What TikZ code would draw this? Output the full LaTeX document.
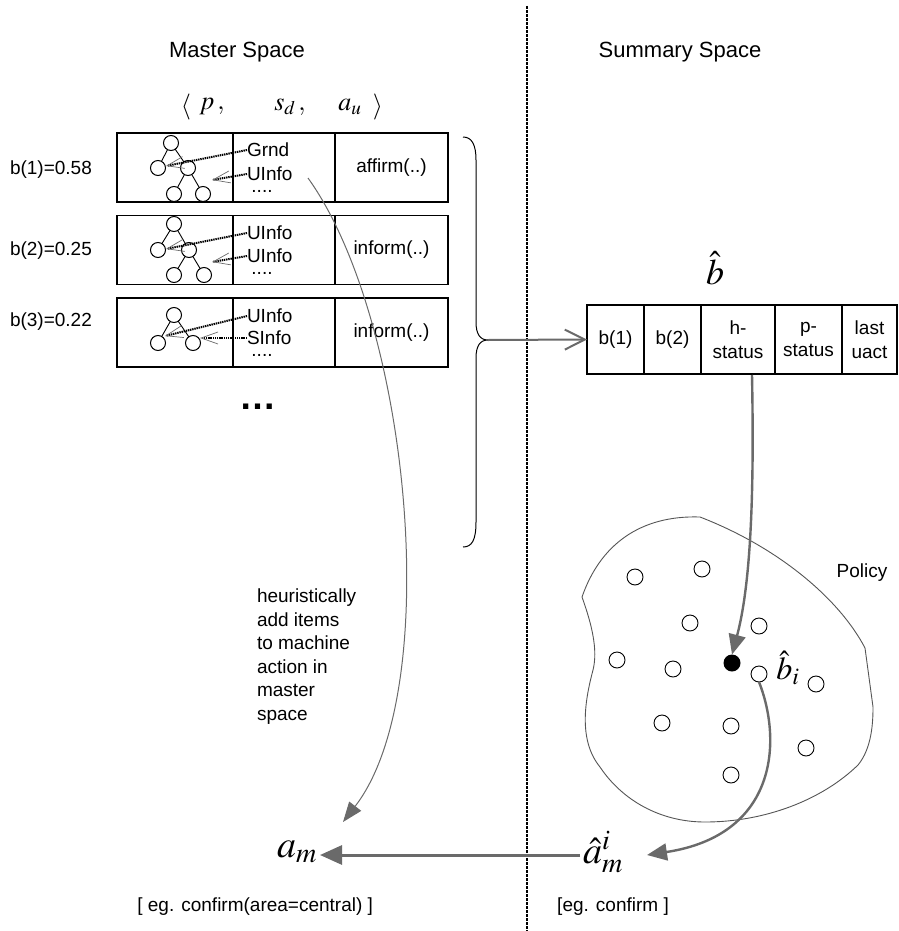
\documentclass[tikz,border=0pt]{standalone}
\usepackage{mathptmx}
\usepackage{fontspec}
\setmainfont{Liberation Sans}
\usetikzlibrary{arrows.meta}
\definecolor{arrgray}{HTML}{6A6A6A}
\definecolor{blobgray}{HTML}{555555}
\begin{document}
\begin{tikzpicture}[x=1pt,y=-1pt,
  every node/.style={inner sep=0pt, outer sep=0pt},
  txt/.style={font=\fontsize{19}{24}\selectfont},
  ttl/.style={font=\fontsize{22}{26}\selectfont},
  mth/.style={font=\fontsize{38}{42}\selectfont},
  tup/.style={font=\fontsize{26}{30}\selectfont},
  cell/.style={draw, line width=1.2pt, anchor=north west, minimum height=69pt, txt, align=center},
  tn/.style={circle, draw, line width=1pt, minimum size=15pt},
  pc/.style={circle, draw, line width=0.9pt, minimum size=16pt},
  tedge/.style={line width=0.9pt},
  ptr/.style={line width=2pt, dash pattern=on 1.4pt off 0.8pt,
    -{Straight Barb[length=17pt,width=12pt,line width=0.7pt,color=arrgray]}},
  garrow/.style={draw=arrgray, line width=2.4pt, -{Triangle[length=20pt,width=17pt]}},
]
\useasboundingbox (0,0) rectangle (898,931);

% divider
\coordinate (dtop) at (527,6);
\coordinate (dbot) at (527,931);
\draw[line width=2pt, dash pattern=on 3pt off 1pt] (dtop) -- (dbot);

% titles
\node[ttl] (mt) at (237,52) {Master Space};
\node[ttl] (st) at (680,52) {Summary Space};

% tuple
\node[tup] (la) at (186,107) {$\langle$};
\node[tup] (tp) at (212,107) {$p\,,$};
\node[tup] (ts) at (290,107) {$s_{d}\,,$};
\node[tup] (tu) at (350,107) {$a_{u}$};
\node[tup] (ra) at (378,107) {$\rangle$};

% belief labels
\node[txt, anchor=west] (b1) at (10,170) {b(1)=0.58};
\node[txt, anchor=west] (b2) at (10,251) {b(2)=0.25};
\node[txt, anchor=west] (b3) at (10,322) {b(3)=0.22};

% row 1
\node[cell, minimum width=116pt] (r1a) at (117,133) {};
\node[cell, minimum width=102pt] (r1b) at (233,133) {};
\node[cell, minimum width=113pt] (r1c) at (335,133) {affirm(..)};
\node[txt, anchor=west] (g1) at (247,150) {Grnd};
\node[txt, anchor=west] (u1) at (247,174) {UInfo};
\node[txt] (d1) at (262,191) {....};
\node[tn] (t1) at (171,143) {};
\node[tn] (l1) at (158,168) {};
\node[tn] (m1) at (188,168) {};
\node[tn] (bl1) at (174,194) {};
\node[tn] (br1) at (203,194) {};
\draw[tedge] (t1) -- (l1); \draw[tedge] (t1) -- (m1);
\draw[tedge] (m1) -- (bl1); \draw[tedge] (m1) -- (br1);
\coordinate (p1a) at (166,166);
\coordinate (p1b) at (212,180);
\draw[ptr] (g1.west) -- (p1a);
\draw[ptr] (u1.west) -- (p1b);

% row 2
\node[cell, minimum width=116pt] (r2a) at (117,215.5) {};
\node[cell, minimum width=102pt] (r2b) at (233,215.5) {};
\node[cell, minimum width=113pt] (r2c) at (335,215.5) {inform(..)};
\node[txt, anchor=west] (g2) at (247,233) {UInfo};
\node[txt, anchor=west] (u2) at (247,256) {UInfo};
\node[txt] (d2) at (262,273) {....};
\node[tn] (t2) at (174,224) {};
\node[tn] (l2) at (158,250) {};
\node[tn] (m2) at (189,250) {};
\node[tn] (bl2) at (174,275) {};
\node[tn] (br2) at (204,275) {};
\draw[tedge] (t2) -- (l2); \draw[tedge] (t2) -- (m2);
\draw[tedge] (m2) -- (bl2); \draw[tedge] (m2) -- (br2);
\coordinate (p2a) at (166,249);
\coordinate (p2b) at (212,262);
\draw[ptr] (g2.west) -- (p2a);
\draw[ptr] (u2.west) -- (p2b);

% row 3
\node[cell, minimum width=116pt] (r3a) at (117,298) {};
\node[cell, minimum width=102pt] (r3b) at (233,298) {};
\node[cell, minimum width=113pt] (r3c) at (335,298) {inform(..)};
\node[txt, anchor=west] (g3) at (247,316) {UInfo};
\node[txt, anchor=west] (u3) at (247,338) {SInfo};
\node[txt] (d3) at (262,355) {....};
\node[tn] (t3) at (174,315) {};
\node[tn] (l3) at (158,343) {};
\node[tn] (m3) at (193,343) {};
\draw[tedge] (t3) -- (l3); \draw[tedge] (t3) -- (m3);
\coordinate (p3a) at (165,336);
\coordinate (p3b) at (200,338);
\draw[ptr] (g3.west) -- (p3a);
\draw[ptr] (u3.west) -- (p3b);

% ellipsis
\node[font=\fontsize{37}{40}\selectfont\bfseries] (ell) at (258,407) {…};

% brace
\coordinate (bt) at (488,340);
\draw[line width=1pt] (463,137) .. controls (472,137) and (476,145) .. (476,160)
  -- (476,322) .. controls (476,334) and (480,340) .. (bt)
  .. controls (480,340) and (476,346) .. (476,358)
  -- (476,522) .. controls (476,540) and (472,547) .. (463,547);

% summary vector
\node[cell, minimum width=57pt] (s1) at (587,305) {b(1)};
\node[cell, minimum width=57pt] (s2) at (644,305) {b(2)};
\node[cell, minimum width=74pt] (s3) at (701,305) {h-\\status};
\node[cell, minimum width=67pt] (s4) at (775,305) {p-\\status};
\node[cell, minimum width=55pt] (s5) at (842,305) {last\\uact};
\node[font=\fontsize{36}{40}\selectfont] (bh) at (715,268) {$\hat{b}$};

\draw[draw=arrgray, line width=2pt, -{Straight Barb[length=20pt,width=20pt,line width=2pt]}] (bt) -- (s1.west);

% policy blob
\draw[blobgray, line width=0.9pt] (700,517) .. controls (640,515) and (600,545) .. (582,597)
  .. controls (592,625) and (598,650) .. (593,670)
  .. controls (585,700) and (578,740) .. (600,767)
  .. controls (622,800) and (660,822) .. (705,822)
  .. controls (765,822) and (822,800) .. (858,765)
  .. controls (872,748) and (873,722) .. (873,707)
  -- (865,648)
  .. controls (840,600) and (780,548) .. cycle;
\node[txt] (pol) at (862,573) {Policy};

\node[pc] (c1) at (635,577) {};
\node[pc] (c2) at (702,569) {};
\node[pc] (c3) at (690,623) {};
\node[pc] (c4) at (759,626) {};
\node[pc] (c5) at (617,660) {};
\node[pc] (c6) at (673,669) {};
\node[pc] (c7) at (759,674) {};
\node[pc] (c8) at (816,684) {};
\node[pc] (c9) at (662,723) {};
\node[pc] (c10) at (731,726) {};
\node[pc] (c11) at (806,748) {};
\node[pc] (c12) at (731,775) {};
\node[circle, fill=black, minimum size=17pt] (dot) at (732,663) {};
\node[font=\fontsize{32}{36}\selectfont] (bhi) at (788,668) {$\hat{b}_{i}$};

\coordinate (sb) at (752,375);
\draw[garrow] (sb) .. controls (754,480) and (752,580) .. (dot.north);

% bottom actions
\node[mth] (am) at (297,852) {$a_{m}$};
\node[mth] (ah) at (603,852) {$\hat{a}_{m}^{i}$};
\coordinate (amE) at (320,855);
\coordinate (ahW) at (580,855);
\coordinate (ahE) at (647,855);
\draw[draw=arrgray, line width=3pt, -{Triangle[length=22pt,width=19pt]}] (ahW) -- (amE);
\draw[garrow] (c7.south) .. controls (782,740) and (778,835) .. (ahE);

\node[txt, anchor=east] (eg1) at (373,907) {[ eg. confirm(area=central) ]};
\node[txt] (eg2) at (613,907) {[eg. confirm ]};

% heuristic arrow
\coordinate (hs) at (308,178);
\coordinate (he) at (343,822);
\draw[draw=arrgray, line width=1pt, -{Triangle[length=20pt,width=15pt]}] (hs) .. controls (410,320) and (445,690) .. (he);
\node[txt, anchor=north west, align=left, font=\fontsize{19}{23.5}\selectfont] (heur) at (257,589)
  {heuristically\\add items\\to machine\\action in\\master\\space};
\end{tikzpicture}
\end{document}
